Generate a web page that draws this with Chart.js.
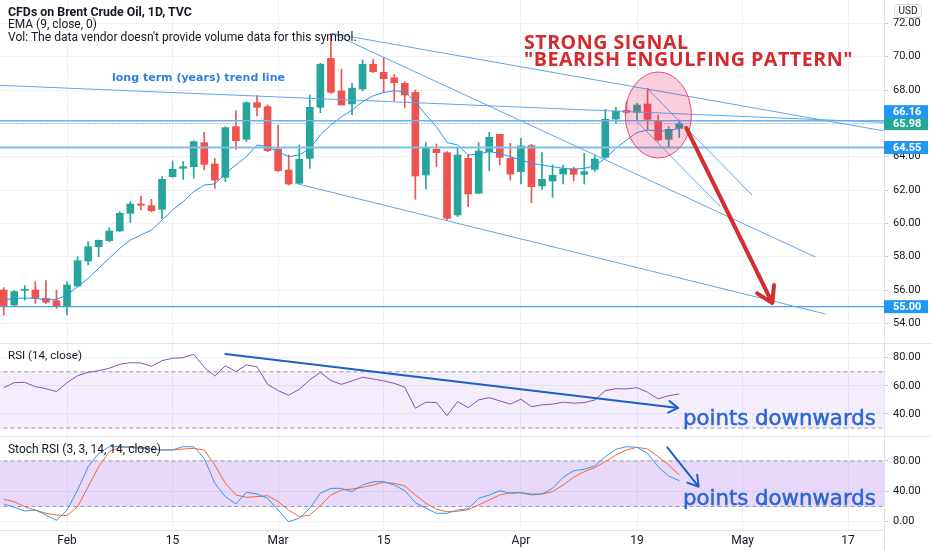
<!DOCTYPE html>
<html>
<head>
<meta charset="utf-8">
<script src="https://cdn.jsdelivr.net/npm/chart.js@4.4.1/dist/chart.umd.min.js"></script>
<style>
  body { margin: 0; width: 932px; height: 550px; overflow: hidden; position: relative; background: #fff; font-family: Roboto, sans-serif; color: #131722; }
  canvas { position: absolute; left: 0; }
  .t { position: absolute; white-space: nowrap; line-height: 1; transform: translateY(-50%); font-size: 13px; }
  .deco { font-family: "DejaVu Sans", sans-serif; }
  .big { font-family: "Open Sans", sans-serif; font-weight: bold; color: #d42a2e; letter-spacing: 0.5px; }
  .note { font-family: "DejaVu Sans", sans-serif; color: #2a66d4; -webkit-text-stroke: 0.5px #2a66d4; }
  .sep { position: absolute; background: #e0e3eb; }
</style>
</head>
<body>
<canvas id="main" width="932" height="343" style="top:0"></canvas>
<canvas id="rsi" width="932" height="93" style="top:344px"></canvas>
<canvas id="stoch" width="932" height="113" style="top:437px"></canvas>
<div class="sep" style="left:0;top:343px;width:932px;height:1px"></div>
<div class="sep" style="left:0;top:436px;width:932px;height:1px"></div>
<div class="sep" style="left:884px;top:530px;width:1px;height:20px"></div>

<div class="t" data-w="184" style="left:8px;top:12px;font-weight:bold">CFDs on Brent Crude Oil, 1D, TVC</div>
<div class="t" data-w="89" style="left:8px;top:24.5px">EMA (9, close, 0)</div>
<div class="t" data-w="349" style="left:8px;top:36.5px">Vol: The data vendor doesn't provide volume data for this symbol.</div>
<div class="t deco" data-w="173" style="left:112px;top:78px;font-weight:bold;color:#2f7fe0">long term (years) trend line</div>
<div class="t big" data-w="168" style="left:524px;top:42px">STRONG SIGNAL</div>
<div class="t big" data-w="336" style="left:524px;top:59px">"BEARISH ENGULFING PATTERN"</div>
<div class="t" data-w="74" style="left:8px;top:356px">RSI (14, close)</div>
<div class="t" data-w="153" style="left:8px;top:449px">Stoch RSI (3, 3, 14, 14, close)</div>
<div class="t note" data-w="193" style="left:683px;top:418px">points downwards</div>
<div class="t note" data-w="193" style="left:683px;top:498px">points downwards</div>

<script>
// bar number of the first candle (0 = 1 Feb)
const FIRST = -6;
const X_MIN = -6.35, X_MAX = 77.4;

const open  = [56.00, 55.10, 55.98, 56.00, 55.50, 55.36, 55.00, 56.24, 57.74, 58.60, 58.96, 59.54, 60.60, 61.16, 61.06, 60.84, 62.80, 63.30, 63.40, 64.84, 63.56, 62.76, 65.80, 65.04, 67.24, 67.00, 64.46, 63.20, 62.40, 63.90, 66.96, 69.90, 67.94, 67.16, 68.06, 69.54, 69.06, 68.74, 68.40, 67.86, 62.90, 64.44, 64.24, 60.50, 63.90, 61.80, 64.30, 65.34, 63.90, 63.10, 64.66, 62.24, 62.54, 62.96, 63.26, 62.94, 63.24, 63.96, 66.26, 66.78, 66.66, 67.16, 66.16, 65.04, 65.70];
const high  = [56.14, 55.98, 56.26, 56.50, 56.56, 56.00, 56.50, 58.00, 58.90, 59.00, 59.74, 60.70, 61.30, 61.64, 61.44, 62.80, 63.74, 63.70, 64.95, 65.46, 63.90, 65.80, 66.76, 67.30, 67.66, 67.10, 65.90, 64.10, 64.70, 67.70, 69.60, 71.40, 69.24, 68.40, 69.80, 69.84, 69.96, 68.94, 68.50, 68.00, 64.84, 64.76, 64.30, 64.50, 64.10, 64.84, 65.46, 65.34, 64.80, 65.10, 64.74, 64.24, 63.50, 63.50, 63.36, 64.20, 64.10, 66.84, 66.96, 67.30, 67.20, 68.10, 66.50, 65.80, 66.20];
const low   = [54.50, 55.00, 55.40, 55.20, 55.20, 54.90, 54.50, 56.20, 57.50, 58.00, 58.90, 59.50, 60.04, 60.80, 60.70, 60.30, 62.76, 62.64, 62.70, 63.20, 62.10, 62.50, 64.44, 64.90, 66.44, 64.30, 63.10, 62.30, 62.36, 63.30, 66.64, 67.80, 67.10, 66.50, 67.96, 69.04, 67.84, 67.36, 66.96, 61.44, 62.06, 63.40, 60.20, 60.40, 61.00, 61.80, 63.16, 63.50, 62.60, 62.36, 61.24, 62.04, 61.56, 62.36, 62.54, 62.36, 63.10, 63.90, 66.00, 66.60, 66.16, 65.60, 64.94, 64.54, 65.16];
const close = [55.00, 55.90, 56.02, 55.50, 55.26, 55.00, 56.30, 57.76, 58.60, 58.98, 59.54, 60.60, 61.16, 61.08, 60.76, 62.64, 63.24, 63.40, 64.90, 63.54, 62.60, 65.74, 64.96, 67.24, 66.96, 64.36, 63.16, 62.36, 63.84, 66.96, 69.54, 67.86, 67.10, 68.10, 69.54, 69.10, 68.68, 68.44, 67.70, 62.84, 64.56, 64.24, 60.30, 64.10, 61.76, 64.34, 65.16, 63.96, 62.96, 64.64, 62.20, 62.64, 62.88, 63.26, 62.94, 63.10, 63.86, 66.24, 66.74, 66.66, 67.10, 66.24, 65.00, 65.64, 65.98];
const ema9  = [55.40, 55.50, 55.52, 55.50, 55.40, 55.44, 55.70, 56.20, 56.70, 57.30, 57.90, 58.50, 59.00, 59.30, 59.60, 60.20, 60.80, 61.30, 61.90, 62.30, 62.36, 63.00, 63.50, 64.00, 64.70, 64.60, 64.30, 64.00, 64.10, 64.50, 65.30, 65.90, 66.40, 66.80, 67.30, 67.65, 67.85, 67.95, 67.90, 67.30, 66.50, 65.80, 64.85, 64.70, 64.10, 64.16, 64.30, 64.20, 64.00, 63.80, 63.60, 63.50, 63.40, 63.30, 63.25, 63.30, 63.45, 63.90, 64.50, 65.00, 65.45, 65.60, 65.55, 65.55, 65.70];

const rsi    = [58.7, 62.3, 62.5, 59.4, 58.0, 55.9, 62.3, 67.2, 69.6, 70.8, 72.5, 75.3, 76.5, 76.2, 73.9, 77.9, 79.6, 80.0, 82.4, 73.2, 67.0, 74.3, 70.1, 74.8, 73.6, 61.1, 56.6, 53.3, 57.6, 64.2, 69.6, 63.7, 61.1, 63.5, 66.1, 64.9, 63.5, 61.8, 59.0, 44.1, 48.4, 48.1, 38.9, 48.8, 44.5, 50.0, 51.6, 49.3, 47.0, 50.5, 45.2, 46.5, 47.0, 48.4, 47.7, 48.1, 50.0, 56.6, 58.0, 57.8, 58.7, 55.5, 50.7, 53.0, 54.2];
const stochK = [23.3, 19.0, 14.1, 15.4, 8.9, 1.9, 15.4, 41.8, 72.5, 90.1, 98.8, 98.8, 98.0, 96.7, 95.8, 94.5, 94.5, 98.8, 98.8, 83.5, 50.6, 33.0, 23.3, 38.8, 36.5, 30.9, 15.4, 0.0, 4.5, 17.7, 37.4, 44.0, 44.0, 39.6, 48.4, 52.7, 52.7, 48.4, 40.9, 25.1, 17.7, 11.1, 11.1, 15.4, 17.0, 30.9, 35.2, 40.9, 37.4, 38.2, 35.2, 36.5, 44.0, 58.5, 67.2, 69.1, 73.4, 85.7, 95.4, 98.8, 98.0, 90.1, 72.5, 60.2, 54.0];
const stochD = [29.5, 26.4, 19.8, 15.4, 11.1, 8.9, 8.0, 19.8, 46.1, 72.5, 92.3, 98.0, 98.8, 98.0, 95.8, 94.5, 94.5, 95.8, 96.7, 94.5, 74.7, 50.6, 35.2, 32.2, 33.0, 34.3, 26.4, 15.4, 6.6, 8.9, 21.1, 35.2, 41.8, 43.1, 45.3, 48.4, 51.9, 50.6, 47.1, 35.2, 24.3, 16.4, 13.2, 13.8, 15.8, 22.0, 28.6, 35.2, 38.2, 38.2, 36.5, 36.5, 39.6, 48.4, 58.5, 65.9, 71.2, 79.1, 87.9, 94.5, 98.0, 95.8, 85.7, 74.7, 61.6];

const tickIdx  = [0, 10, 20, 30, 43, 54, 64, 74];
const tickText = ['Feb', '15', 'Mar', '15', 'Apr', '19', 'May', '17'];
const priceTicks = [54, 56, 58, 60, 62, 64, 66, 68, 70, 72];
const rsiTicks = [40, 60, 80];
const stochTicks = [0, 40, 80];
const rsiBand = [30, 70];
const stochBand = [20, 80];

// drawings, as [bar, value] pairs
const longTermLine = [[-6.35, 68.28], [77.4, 66.06]];
const upperLine    = [[25.09, 71.40], [77.44, 65.54]];
const steepLine    = [[25.09, 71.40], [70.9, 57.98]];
const lowerLine    = [[21.9, 62.36], [71.85, 54.56]];
const patternLineA = [[54.95, 68.10], [64.9, 61.70]];
const patternLineB = [[54.0, 66.10], [61.9, 61.00]];
const levels = [66.16, 64.55, 55.00];
const lastPrice = 65.98;
const redArrow = [[58.67, 65.72], [66.82, 55.22]];
const engulfCircle = [56.02, 66.5, 3.13, 2.58];
const rsiArrow = [[15.0, 82.6], [57.9, 44.3]];
const stochArrow = [[56.87, 98.0], [59.84, 46.1]];

// fit annotation texts to their measured widths
document.querySelectorAll('.t').forEach(el => {
  const size = parseFloat(getComputedStyle(el).fontSize);
  const w = el.getBoundingClientRect().width;
  el.style.fontSize = (size * (+el.dataset.w) / w).toFixed(2) + 'px';
});

const GRID = '#eef1f5', AXIS = '#e0e3eb', UP = '#26a69a', DOWN = '#ef5350', LINE = '#5ea7ec';
const xs = close.map((_, k) => FIRST + k);
const candleCol = close.map((c, k) => c >= open[k] ? UP : DOWN);

const seg = (pts, color, width, extra) => Object.assign({
  type: 'line', data: pts.map(([x, y]) => ({ x, y })), borderColor: color, borderWidth: width,
  pointRadius: 0, fill: false, order: 1
}, extra || {});
const hline = (v, color, width, extra) => seg([[X_MIN - 1, v], [X_MAX + 1, v]], color, width, extra);

const xAxis = labels => ({
  type: 'linear', min: X_MIN, max: X_MAX, offset: false,
  afterBuildTicks: s => { s.ticks = tickIdx.map(value => ({ value })); },
  afterFit: s => { s.height = labels ? 20 : 0; s.paddingLeft = 0; s.paddingRight = 0; },
  grid: { color: GRID, drawTicks: false, offset: false },
  border: { display: labels, color: AXIS },
  ticks: { display: labels, padding: 4, maxRotation: 0, autoSkip: false, color: '#131722',
           font: { family: 'Roboto', size: 12 }, callback: v => tickText[tickIdx.indexOf(v)] }
});
const yAxis = (min, max, ticks) => ({
  position: 'right', min, max,
  afterBuildTicks: s => { s.ticks = ticks.map(value => ({ value })); },
  afterFit: s => { s.width = 48; s.paddingTop = 0; s.paddingBottom = 0; },
  grid: { color: GRID, drawTicks: true, tickLength: 4, tickColor: '#c8cbd3' },
  border: { color: AXIS },
  ticks: { padding: 5, color: '#131722', font: { family: 'Roboto', size: 11 }, callback: v => v.toFixed(2) }
});
const base = (scales, plugins) => ({
  responsive: false, animation: false, events: [], layout: { padding: 0 },
  plugins: Object.assign({ legend: { display: false }, tooltip: { enabled: false } }, plugins || {}),
  scales
});

function arrow(ctx, x, y, pts, color, width, head) {
  const x0 = x.getPixelForValue(pts[0][0]), y0 = y.getPixelForValue(pts[0][1]);
  const x1 = x.getPixelForValue(pts[1][0]), y1 = y.getPixelForValue(pts[1][1]);
  const a = Math.atan2(y1 - y0, x1 - x0);
  ctx.save();
  ctx.strokeStyle = color; ctx.lineWidth = width; ctx.lineCap = 'round'; ctx.lineJoin = 'round';
  ctx.beginPath();
  ctx.moveTo(x0, y0); ctx.lineTo(x1, y1);
  for (const s of [-1, 1]) {
    ctx.moveTo(x1, y1);
    ctx.lineTo(x1 - head * Math.cos(a + s * 0.55), y1 - head * Math.sin(a + s * 0.55));
  }
  ctx.stroke();
  ctx.restore();
}

const mainDrawings = {
  id: 'mainDrawings',
  afterDatasetsDraw(chart) {
    const { ctx, scales: { x, y } } = chart;
    const [ci, cp, ri, rp] = engulfCircle;
    const cx = x.getPixelForValue(ci), cy = y.getPixelForValue(cp);
    const rx = Math.abs(x.getPixelForValue(ci + ri) - cx), ry = Math.abs(y.getPixelForValue(cp + rp) - cy);
    ctx.save();
    ctx.beginPath();
    ctx.ellipse(cx, cy, rx, ry, 0, 0, Math.PI * 2);
    ctx.fillStyle = 'rgba(233,30,99,0.22)';
    ctx.fill();
    ctx.strokeStyle = '#e04a7e';
    ctx.lineWidth = 1;
    ctx.stroke();
    ctx.restore();
    arrow(ctx, x, y, redArrow, '#d32f2f', 4, 18);
  },
  afterDraw(chart) {
    const { ctx, scales: { y } } = chart;
    ctx.save();
    // currency box
    ctx.strokeStyle = '#d1d4dc'; ctx.lineWidth = 1;
    ctx.beginPath(); ctx.roundRect(894.5, 4.5, 27, 13, 3); ctx.stroke();
    ctx.fillStyle = '#131722'; ctx.font = '10px Roboto'; ctx.textAlign = 'center'; ctx.textBaseline = 'middle';
    ctx.fillText('USD', 908, 11.5);
    // price tags, pushed apart when they overlap
    const tags = levels.concat([lastPrice]).map(v => ({ v, py: y.getPixelForValue(v) })).sort((a, b) => b.py - a.py);
    for (let k = 1; k < tags.length; k++) {
      if (tags[k - 1].py - tags[k].py < 12) tags[k].py = tags[k - 1].py - 12;
    }
    ctx.font = 'bold 11px Roboto'; ctx.textAlign = 'left';
    tags.forEach(t => {
      ctx.fillStyle = t.v === lastPrice ? UP : '#2196f3';
      ctx.fillRect(884, t.py - 6.5, 44, 13);
      ctx.fillStyle = '#fff';
      ctx.fillText(t.v.toFixed(2), 893, t.py + 0.5);
    });
    ctx.restore();
  }
};

new Chart(document.getElementById('main'), {
  type: 'bar',
  data: {
    datasets: [
      { data: xs.map((x, k) => ({ x, y: [low[k], high[k]] })), backgroundColor: candleCol, barThickness: 1, grouped: false, order: 11 },
      { data: xs.map((x, k) => ({ x, y: [open[k], close[k]] })), backgroundColor: candleCol, barThickness: 7, minBarLength: 1, grouped: false, order: 10 },
      seg(xs.map((x, k) => [x, ema9[k]]), '#2196f3', 1, { order: 2 }),
      seg(longTermLine, LINE, 1),
      seg(upperLine, LINE, 1),
      seg(steepLine, LINE, 1),
      seg(lowerLine, LINE, 1),
      seg(patternLineA, LINE, 1),
      seg(patternLineB, LINE, 1),
      hline(levels[0], '#6cb2f0', 1.5),
      hline(lastPrice, '#7aa6cf', 1, { borderDash: [1, 2] }),
      hline(levels[1], '#7dbdf2', 2),
      hline(levels[2], '#4aa0ea', 1.2)
    ]
  },
  options: base({ x: xAxis(false), y: yAxis(52.82, 73.4, priceTicks) }),
  plugins: [mainDrawings]
});

const bandSets = (band, fillColor) => [
  hline(band[1], '#9598a1', 1, { borderDash: [4, 3], order: 20 }),
  hline(band[0], '#9598a1', 1, { borderDash: [4, 3], order: 20, fill: '-1', backgroundColor: fillColor })
];

new Chart(document.getElementById('rsi'), {
  type: 'line',
  data: {
    datasets: bandSets(rsiBand, 'rgba(150,90,230,0.11)').concat([
      seg(xs.map((x, k) => [x, rsi[k]]), '#8a4fb8', 1, { order: 2 })
    ])
  },
  options: base({ x: xAxis(false), y: yAxis(23.66, 89.73, rsiTicks) }),
  plugins: [{ id: 'rsiArrow', afterDatasetsDraw(c) { arrow(c.ctx, c.scales.x, c.scales.y, rsiArrow, '#1f5fc8', 2, 11); } }]
});

new Chart(document.getElementById('stoch'), {
  type: 'line',
  data: {
    datasets: bandSets(stochBand, 'rgba(149,76,233,0.22)').concat([
      seg(xs.map((x, k) => [x, stochD[k]]), '#f26a2e', 1, { order: 3 }),
      seg(xs.map((x, k) => [x, stochK[k]]), '#3a96ea', 1, { order: 2 })
    ])
  },
  options: base({ x: xAxis(true), y: yAxis(-10.9, 111.6, stochTicks) }),
  plugins: [{ id: 'stochArrow', afterDatasetsDraw(c) { arrow(c.ctx, c.scales.x, c.scales.y, stochArrow, '#1f5fc8', 2, 12); } }]
});
</script>
</body>
</html>
